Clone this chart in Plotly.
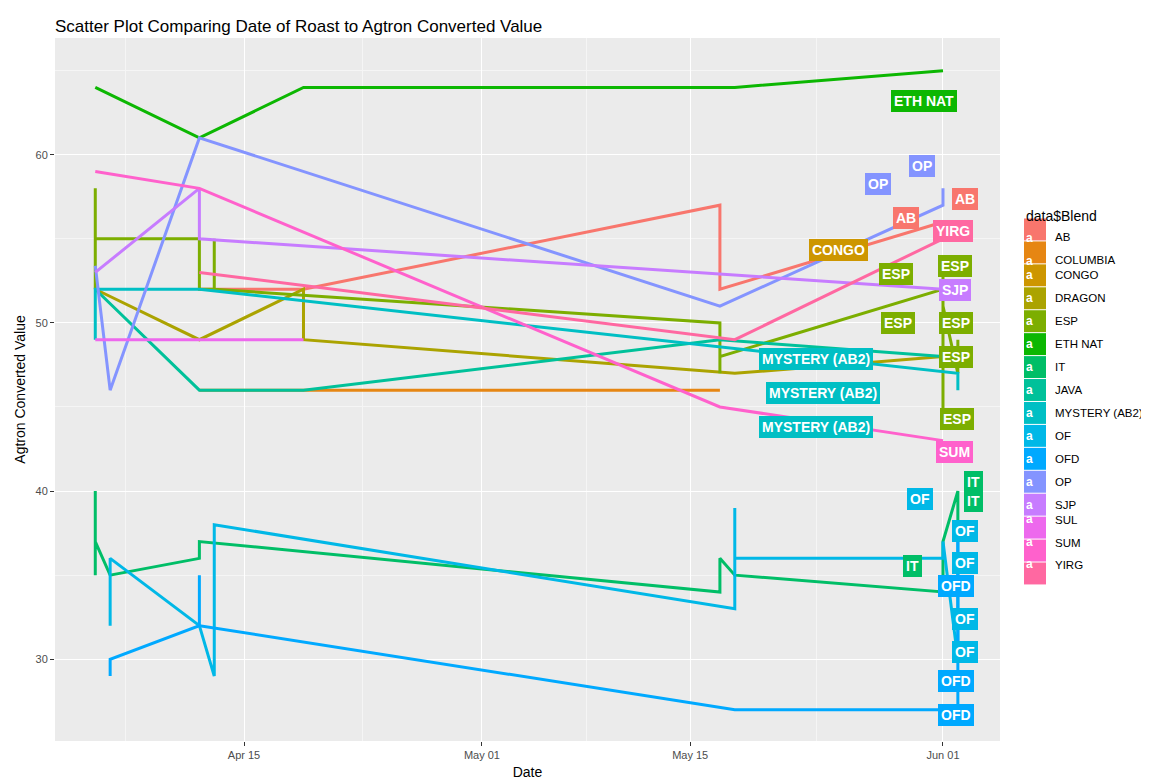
import plotly.graph_objects as go

blends = ["AB","COLUMBIA","CONGO","DRAGON","ESP","ETH NAT","IT","JAVA","MYSTERY (AB2)",
          "OF","OFD","OP","SJP","SUL","SUM","YIRG"]
colors = ["#F8766D","#E68613","#CD9600","#ABA300","#7CAE00","#0CB702","#00BE67","#00C19A",
          "#00BFC4","#00B8E7","#00A9FF","#8494FF","#C77CFF","#ED68ED","#FF61CC","#FF68A1"]
cmap = dict(zip(blends, colors))

Y = "2023-"
ab_dates = ["04-12","04-19","05-17","05-17","06-01"]
ab_vals = [52,52,57,52,56]
columbia_dates = ["04-12","05-17"]
columbia_vals = [46,46]
congo_dates = ["06-01"]
congo_vals = [55]
dragon_dates = ["04-05","04-12","04-19","04-19","05-18","06-01"]
dragon_vals = [52,49,52,49,47,48]
esp_dates = ["04-05","04-05","04-05","04-12","04-12","04-13","04-13","04-13","05-17","05-17","05-17",
             "06-01","06-01","06-01","06-01","06-02","06-02"]
esp_vals = [58,52,55,55,52,52,55,52,50,47,48,52,53,44,51,47,49]
eth_dates = ["04-05","04-12","04-19","05-18","06-01"]
eth_vals = [64,61,64,64,65]
it_dates = ["04-05","04-05","04-05","04-06","04-12","04-12","05-17","05-17","05-18","06-01","06-01","06-02","06-02"]
it_vals = [40,35,37,35,36,37,34,36,35,34,37,40,37]
java_dates = ["04-05","04-12","04-19","05-17","06-01"]
java_vals = [52,46,46,49,48]
mystery_dates = ["04-05","04-05","04-12","06-02","06-02"]
mystery_vals = [49,52,52,47,46]
of_dates = ["04-06","04-06","04-12","04-13","04-13","05-18","05-18","05-18","06-01","06-01","06-02","06-02"]
of_vals = [32,36,32,29,38,33,39,36,36,37,30,37]
ofd_dates = ["04-06","04-06","04-12","04-12","04-12","05-18","06-02","06-02"]
ofd_vals = [29,30,32,35,32,27,27,37]
op_dates = ["04-05","04-06","04-12","05-17","06-01","06-01"]
op_vals = [53.4,46,61,51,57,58]
sjp_dates = ["04-05","04-12","04-12","06-01"]
sjp_vals = [53,58,55,52]
sul_dates = ["04-05","04-19"]
sul_vals = [49,49]
sum_dates = ["04-05","04-12","05-17","06-01"]
sum_vals = [59,58,45,43]
yirg_dates = ["04-12","05-18","06-01"]
yirg_vals = [53,49,55]

series = {
    "AB": (ab_dates, ab_vals), "COLUMBIA": (columbia_dates, columbia_vals),
    "CONGO": (congo_dates, congo_vals), "DRAGON": (dragon_dates, dragon_vals),
    "ESP": (esp_dates, esp_vals), "ETH NAT": (eth_dates, eth_vals),
    "IT": (it_dates, it_vals), "JAVA": (java_dates, java_vals),
    "MYSTERY (AB2)": (mystery_dates, mystery_vals), "OF": (of_dates, of_vals),
    "OFD": (ofd_dates, ofd_vals), "OP": (op_dates, op_vals), "SJP": (sjp_dates, sjp_vals),
    "SUL": (sul_dates, sul_vals), "SUM": (sum_dates, sum_vals), "YIRG": (yirg_dates, yirg_vals),
}

# end-point labels (text, blend, pixel position of label centre)
labels = [("ETH NAT","ETH NAT",949,82),("OP","OP",883,165),("OP","OP",927,147),
          ("AB","AB",911,199),("AB","AB",970,180),("YIRG","YIRG",965,213),
          ("CONGO","CONGO",860,232),("ESP","ESP",964,248),("ESP","ESP",905,267),
          ("SJP","SJP",963,283),("ESP","ESP",907,316),("ESP","ESP",965,316),
          ("ESP","ESP",965,350),("MYSTERY (AB2)","MYSTERY (AB2)",865,352),
          ("MYSTERY (AB2)","MYSTERY (AB2)",872,386),("MYSTERY (AB2)","MYSTERY (AB2)",865,420),
          ("ESP","ESP",966,412),("SUM","SUM",965,445),("IT","IT",975,475),("IT","IT",975,505),
          ("OF","OF",925,503),("OF","OF",970,535),("IT","IT",914,571),("OF","OF",970,568),
          ("OFD","OFD",966,591),("OF","OF",970,624),("OF","OF",970,657),
          ("OFD","OFD",966,686),("OFD","OFD",966,720)]

L, R, T, B = 47, 992, 30, 735
def px(x): return (x - L) / (R - L)
def py(y): return (B - y) / (B - T)

fig = go.Figure()
for b in blends:
    d, v = series[b]
    if len(d) < 2:
        continue
    fig.add_trace(go.Scatter(x=[Y + s for s in d], y=v, mode="lines",
                             line=dict(color=cmap[b], width=3), showlegend=False, name=b))

ann = []
for text, b, x, y in labels:
    ann.append(dict(text="<b>" + text + "</b>", x=px(x), y=py(y), xref="paper", yref="paper",
                    showarrow=False, font=dict(color="white", size=14, family="Liberation Sans"),
                    bgcolor=cmap[b], bordercolor=cmap[b], borderpad=2))

shapes = []
ann.append(dict(text="data$Blend", x=1016, y=198, xref="paper", yref="paper", showarrow=False))
ann[-1].update(x=(1016 - L) / (R - L), y=py(198), xanchor="left",
               font=dict(size=14, color="black", family="Liberation Sans"))
for i, b in enumerate(blends):
    yc = 222 + i * 23
    shapes.append(dict(type="rect", xref="paper", yref="paper",
                       x0=px(1016), x1=px(1038), y0=py(yc + 11), y1=py(yc - 11),
                       fillcolor=cmap[b], line=dict(width=0)))
    ann.append(dict(text="<b>a</b>", x=px(1027), y=py(yc), xref="paper", yref="paper",
                    showarrow=False, font=dict(color="white", size=12, family="Liberation Sans")))
    ann.append(dict(text=b, x=px(1045), y=py(yc), xref="paper", yref="paper", xanchor="left",
                    showarrow=False, font=dict(color="black", size=11.5, family="Liberation Sans")))

fig.update_layout(
    width=1149, height=781, margin=dict(l=L, r=1149 - R, t=T, b=781 - B),
    paper_bgcolor="white", plot_bgcolor="#EBEBEB",
    font=dict(family="Liberation Sans", color="black"),
    title=dict(text="Scatter Plot Comparing Date of Roast to Agtron Converted Value",
               x=0, xref="paper", xanchor="left", y=0.985, yanchor="top",
               font=dict(size=17, color="black")),
    xaxis=dict(range=["2023-04-02 07:00", "2023-06-04 20:00"],
               tickvals=["2023-04-15", "2023-05-01", "2023-05-15", "2023-06-01"],
               ticktext=["Apr 15", "May 01", "May 15", "Jun 01"],
               showgrid=True, gridcolor="white", gridwidth=1.2, zeroline=False,
               ticks="outside", ticklen=4, tickcolor="#333333",
               tickfont=dict(size=11, color="#4D4D4D"),
               title=dict(text="Date", font=dict(size=14), standoff=6),
               minor=dict(tickvals=["2023-04-07", "2023-04-23", "2023-05-08", "2023-05-23 12:00"],
                          showgrid=True, gridcolor="#F5F5F5", gridwidth=0.6)),
    yaxis=dict(range=[25.14, 66.94], tickvals=[30, 40, 50, 60],
               showgrid=True, gridcolor="white", gridwidth=1.2, zeroline=False,
               ticks="outside", ticklen=4, tickcolor="#333333",
               tickfont=dict(size=11, color="#4D4D4D"),
               title=dict(text="Agtron Converted Value", font=dict(size=14), standoff=6),
               minor=dict(tickvals=[25, 35, 45, 55, 65], showgrid=True,
                          gridcolor="#F5F5F5", gridwidth=0.6)),
    annotations=ann, shapes=shapes,
)
fig.write_html("out.html")
